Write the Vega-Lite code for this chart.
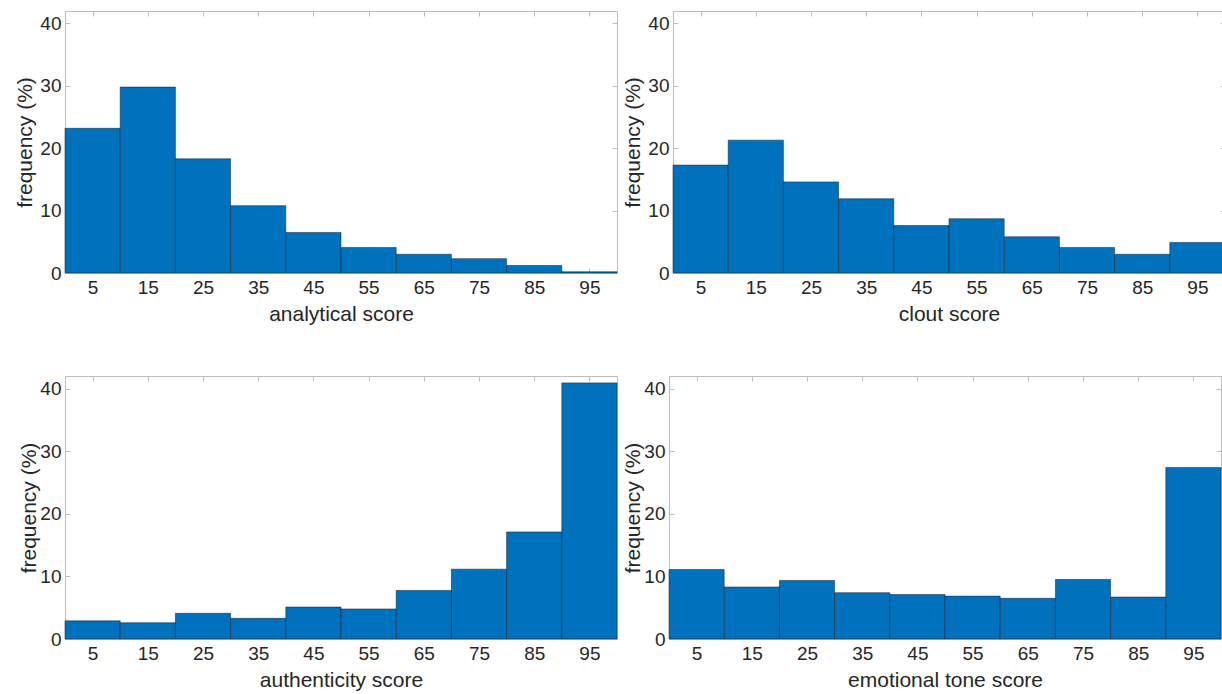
{
  "$schema": "https://vega.github.io/schema/vega-lite/v6.json",
  "padding": {"left": 14, "top": 10, "right": 0, "bottom": 0},
  "background": "white",
  "config": {
    "view": {"stroke": "#bdbdbd", "strokeWidth": 1},
    "axis": {
      "labelFont": "Liberation Sans", "labelFontSize": 19, "labelColor": "#262626",
      "titleFont": "Liberation Sans", "titleFontSize": 21, "titleFontWeight": "normal", "titleColor": "#262626",
      "tickColor": "#bdbdbd", "tickWidth": 1, "grid": false, "domain": false
    },
    "concat": {"spacing": 4}
  },
  "datasets": {
    "hist": [
      {"panel": "analytical", "lo": 0, "hi": 10, "freq": 23.2},
      {"panel": "analytical", "lo": 10, "hi": 20, "freq": 29.8},
      {"panel": "analytical", "lo": 20, "hi": 30, "freq": 18.3},
      {"panel": "analytical", "lo": 30, "hi": 40, "freq": 10.8},
      {"panel": "analytical", "lo": 40, "hi": 50, "freq": 6.5},
      {"panel": "analytical", "lo": 50, "hi": 60, "freq": 4.1},
      {"panel": "analytical", "lo": 60, "hi": 70, "freq": 3.0},
      {"panel": "analytical", "lo": 70, "hi": 80, "freq": 2.3},
      {"panel": "analytical", "lo": 80, "hi": 90, "freq": 1.2},
      {"panel": "analytical", "lo": 90, "hi": 100, "freq": 0.2},
      {"panel": "clout", "lo": 0, "hi": 10, "freq": 17.3},
      {"panel": "clout", "lo": 10, "hi": 20, "freq": 21.3},
      {"panel": "clout", "lo": 20, "hi": 30, "freq": 14.6},
      {"panel": "clout", "lo": 30, "hi": 40, "freq": 11.9},
      {"panel": "clout", "lo": 40, "hi": 50, "freq": 7.6},
      {"panel": "clout", "lo": 50, "hi": 60, "freq": 8.7},
      {"panel": "clout", "lo": 60, "hi": 70, "freq": 5.8},
      {"panel": "clout", "lo": 70, "hi": 80, "freq": 4.1},
      {"panel": "clout", "lo": 80, "hi": 90, "freq": 3.0},
      {"panel": "clout", "lo": 90, "hi": 100, "freq": 4.9},
      {"panel": "authenticity", "lo": 0, "hi": 10, "freq": 2.9},
      {"panel": "authenticity", "lo": 10, "hi": 20, "freq": 2.6},
      {"panel": "authenticity", "lo": 20, "hi": 30, "freq": 4.1},
      {"panel": "authenticity", "lo": 30, "hi": 40, "freq": 3.3},
      {"panel": "authenticity", "lo": 40, "hi": 50, "freq": 5.1},
      {"panel": "authenticity", "lo": 50, "hi": 60, "freq": 4.8},
      {"panel": "authenticity", "lo": 60, "hi": 70, "freq": 7.75},
      {"panel": "authenticity", "lo": 70, "hi": 80, "freq": 11.15},
      {"panel": "authenticity", "lo": 80, "hi": 90, "freq": 17.1},
      {"panel": "authenticity", "lo": 90, "hi": 100, "freq": 40.9},
      {"panel": "tone", "lo": 0, "hi": 10, "freq": 11.1},
      {"panel": "tone", "lo": 10, "hi": 20, "freq": 8.3},
      {"panel": "tone", "lo": 20, "hi": 30, "freq": 9.35},
      {"panel": "tone", "lo": 30, "hi": 40, "freq": 7.4},
      {"panel": "tone", "lo": 40, "hi": 50, "freq": 7.1},
      {"panel": "tone", "lo": 50, "hi": 60, "freq": 6.85},
      {"panel": "tone", "lo": 60, "hi": 70, "freq": 6.5},
      {"panel": "tone", "lo": 70, "hi": 80, "freq": 9.5},
      {"panel": "tone", "lo": 80, "hi": 90, "freq": 6.7},
      {"panel": "tone", "lo": 90, "hi": 100, "freq": 27.4}
    ]
  },
  "data": {"name": "hist"},
  "vconcat": [
    {
      "spacing": 4,
      "hconcat": [
        {
          "width": 552, "height": 262,
          "transform": [{"filter": {"field": "panel", "equal": "analytical"}}],
          "layer": [
            {"mark": {"type": "bar", "fill": "#0072BD", "stroke": "#1a1a1a", "strokeWidth": 0.5, "orient": "vertical"},
             "encoding": {
               "x": {"field": "lo", "type": "quantitative", "scale": {"domain": [0, 100], "nice": false, "zero": false, "padding": 0},
                     "axis": {"orient": "bottom", "title": "analytical score", "values": [5, 15, 25, 35, 45, 55, 65, 75, 85, 95], "ticks": false, "labelPadding": 5, "titlePadding": 6}},
               "x2": {"field": "hi"},
               "y": {"field": "freq", "type": "quantitative", "scale": {"domain": [0, 42], "nice": false, "padding": 0},
                     "axis": {"orient": "left", "title": "frequency (%)", "values": [0, 10, 20, 30, 40], "ticks": false, "labelPadding": 4, "titlePadding": 4}},
               "y2": {"datum": 0}
             }},
            {"mark": {"type": "bar", "opacity": 0, "orient": "vertical"},
             "encoding": {
               "x": {"field": "lo", "type": "quantitative", "axis": {"orient": "bottom", "title": null, "labels": false, "values": [5, 15, 25, 35, 45, 55, 65, 75, 85, 95], "tickSize": -5}},
               "x2": {"field": "hi"},
               "y": {"field": "freq", "type": "quantitative", "axis": {"orient": "left", "title": null, "labels": false, "values": [0, 10, 20, 30, 40], "tickSize": -5}},
               "y2": {"datum": 0}
             }},
            {"mark": {"type": "bar", "opacity": 0, "orient": "vertical"},
             "encoding": {
               "x": {"field": "lo", "type": "quantitative", "axis": {"orient": "top", "title": null, "labels": false, "values": [5, 15, 25, 35, 45, 55, 65, 75, 85, 95], "tickSize": -5}},
               "x2": {"field": "hi"},
               "y": {"field": "freq", "type": "quantitative", "axis": {"orient": "right", "title": null, "labels": false, "values": [0, 10, 20, 30, 40], "tickSize": -5}},
               "y2": {"datum": 0}
             }}
          ],
          "resolve": {"axis": {"x": "independent", "y": "independent"}}
        },
        {
          "width": 552, "height": 262,
          "transform": [{"filter": {"field": "panel", "equal": "clout"}}],
          "layer": [
            {"mark": {"type": "bar", "fill": "#0072BD", "stroke": "#1a1a1a", "strokeWidth": 0.5, "orient": "vertical"},
             "encoding": {
               "x": {"field": "lo", "type": "quantitative", "scale": {"domain": [0, 100], "nice": false, "zero": false, "padding": 0},
                     "axis": {"orient": "bottom", "title": "clout score", "values": [5, 15, 25, 35, 45, 55, 65, 75, 85, 95], "ticks": false, "labelPadding": 5, "titlePadding": 6}},
               "x2": {"field": "hi"},
               "y": {"field": "freq", "type": "quantitative", "scale": {"domain": [0, 42], "nice": false, "padding": 0},
                     "axis": {"orient": "left", "title": "frequency (%)", "values": [0, 10, 20, 30, 40], "ticks": false, "labelPadding": 4, "titlePadding": 4}},
               "y2": {"datum": 0}
             }},
            {"mark": {"type": "bar", "opacity": 0, "orient": "vertical"},
             "encoding": {
               "x": {"field": "lo", "type": "quantitative", "axis": {"orient": "bottom", "title": null, "labels": false, "values": [5, 15, 25, 35, 45, 55, 65, 75, 85, 95], "tickSize": -5}},
               "x2": {"field": "hi"},
               "y": {"field": "freq", "type": "quantitative", "axis": {"orient": "left", "title": null, "labels": false, "values": [0, 10, 20, 30, 40], "tickSize": -5}},
               "y2": {"datum": 0}
             }},
            {"mark": {"type": "bar", "opacity": 0, "orient": "vertical"},
             "encoding": {
               "x": {"field": "lo", "type": "quantitative", "axis": {"orient": "top", "title": null, "labels": false, "values": [5, 15, 25, 35, 45, 55, 65, 75, 85, 95], "tickSize": -5}},
               "x2": {"field": "hi"},
               "y": {"field": "freq", "type": "quantitative", "axis": {"orient": "right", "title": null, "labels": false, "values": [0, 10, 20, 30, 40], "tickSize": -5}},
               "y2": {"datum": 0}
             }}
          ],
          "resolve": {"axis": {"x": "independent", "y": "independent"}}
        }
      ]
    },
    {
      "spacing": 4,
      "hconcat": [
        {
          "width": 552, "height": 263,
          "transform": [{"filter": {"field": "panel", "equal": "authenticity"}}],
          "layer": [
            {"mark": {"type": "bar", "fill": "#0072BD", "stroke": "#1a1a1a", "strokeWidth": 0.5, "orient": "vertical"},
             "encoding": {
               "x": {"field": "lo", "type": "quantitative", "scale": {"domain": [0, 100], "nice": false, "zero": false, "padding": 0},
                     "axis": {"orient": "bottom", "title": "authenticity score", "values": [5, 15, 25, 35, 45, 55, 65, 75, 85, 95], "ticks": false, "labelPadding": 5, "titlePadding": 6}},
               "x2": {"field": "hi"},
               "y": {"field": "freq", "type": "quantitative", "scale": {"domain": [0, 42], "nice": false, "padding": 0},
                     "axis": {"orient": "left", "title": "frequency (%)", "values": [0, 10, 20, 30, 40], "ticks": false, "labelPadding": 4, "titlePadding": 0}},
               "y2": {"datum": 0}
             }},
            {"mark": {"type": "bar", "opacity": 0, "orient": "vertical"},
             "encoding": {
               "x": {"field": "lo", "type": "quantitative", "axis": {"orient": "bottom", "title": null, "labels": false, "values": [5, 15, 25, 35, 45, 55, 65, 75, 85, 95], "tickSize": -5}},
               "x2": {"field": "hi"},
               "y": {"field": "freq", "type": "quantitative", "axis": {"orient": "left", "title": null, "labels": false, "values": [0, 10, 20, 30, 40], "tickSize": -5}},
               "y2": {"datum": 0}
             }},
            {"mark": {"type": "bar", "opacity": 0, "orient": "vertical"},
             "encoding": {
               "x": {"field": "lo", "type": "quantitative", "axis": {"orient": "top", "title": null, "labels": false, "values": [5, 15, 25, 35, 45, 55, 65, 75, 85, 95], "tickSize": -5}},
               "x2": {"field": "hi"},
               "y": {"field": "freq", "type": "quantitative", "axis": {"orient": "right", "title": null, "labels": false, "values": [0, 10, 20, 30, 40], "tickSize": -5}},
               "y2": {"datum": 0}
             }}
          ],
          "resolve": {"axis": {"x": "independent", "y": "independent"}}
        },
        {
          "width": 552, "height": 263,
          "transform": [{"filter": {"field": "panel", "equal": "tone"}}],
          "layer": [
            {"mark": {"type": "bar", "fill": "#0072BD", "stroke": "#1a1a1a", "strokeWidth": 0.5, "orient": "vertical"},
             "encoding": {
               "x": {"field": "lo", "type": "quantitative", "scale": {"domain": [0, 100], "nice": false, "zero": false, "padding": 0},
                     "axis": {"orient": "bottom", "title": "emotional tone score", "values": [5, 15, 25, 35, 45, 55, 65, 75, 85, 95], "ticks": false, "labelPadding": 5, "titlePadding": 6}},
               "x2": {"field": "hi"},
               "y": {"field": "freq", "type": "quantitative", "scale": {"domain": [0, 42], "nice": false, "padding": 0},
                     "axis": {"orient": "left", "title": "frequency (%)", "values": [0, 10, 20, 30, 40], "ticks": false, "labelPadding": 4, "titlePadding": 0}},
               "y2": {"datum": 0}
             }},
            {"mark": {"type": "bar", "opacity": 0, "orient": "vertical"},
             "encoding": {
               "x": {"field": "lo", "type": "quantitative", "axis": {"orient": "bottom", "title": null, "labels": false, "values": [5, 15, 25, 35, 45, 55, 65, 75, 85, 95], "tickSize": -5}},
               "x2": {"field": "hi"},
               "y": {"field": "freq", "type": "quantitative", "axis": {"orient": "left", "title": null, "labels": false, "values": [0, 10, 20, 30, 40], "tickSize": -5}},
               "y2": {"datum": 0}
             }},
            {"mark": {"type": "bar", "opacity": 0, "orient": "vertical"},
             "encoding": {
               "x": {"field": "lo", "type": "quantitative", "axis": {"orient": "top", "title": null, "labels": false, "values": [5, 15, 25, 35, 45, 55, 65, 75, 85, 95], "tickSize": -5}},
               "x2": {"field": "hi"},
               "y": {"field": "freq", "type": "quantitative", "axis": {"orient": "right", "title": null, "labels": false, "values": [0, 10, 20, 30, 40], "tickSize": -5}},
               "y2": {"datum": 0}
             }}
          ],
          "resolve": {"axis": {"x": "independent", "y": "independent"}}
        }
      ]
    }
  ],
  "spacing": 50
}
